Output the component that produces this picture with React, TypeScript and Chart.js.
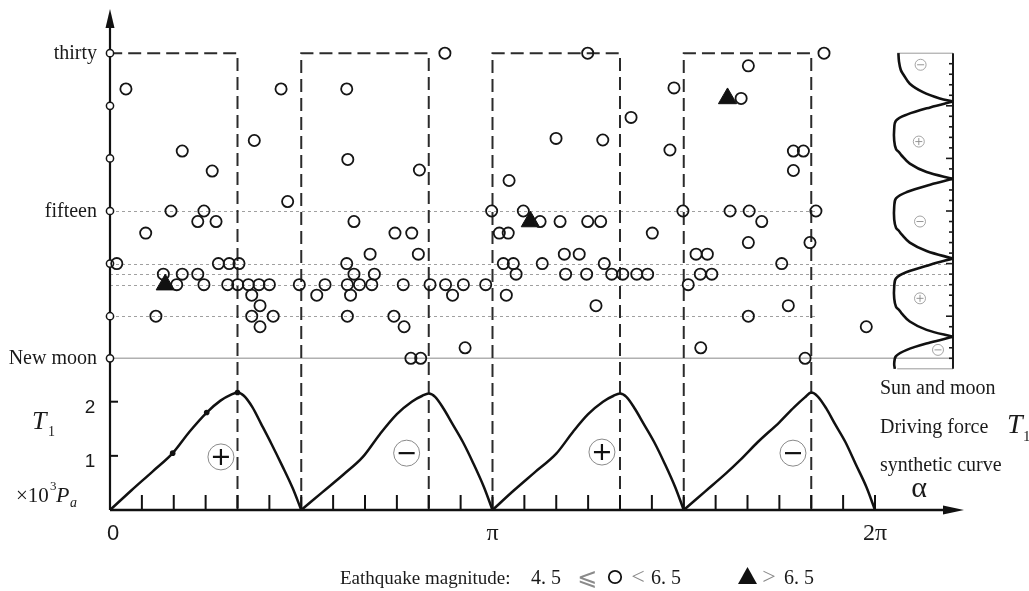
import React, { useEffect, useRef } from "react";
import { Chart, registerables } from "chart.js";

Chart.register(...registerables);

const WIDTH = 1029;
const HEIGHT = 591;

// ---------------- DATA ----------------
// α in degrees (0 … 360 = 2π); lunar day (1 = new moon, 15 = fifteenth, 30 = thirtieth)
const QUAKES_MID: [number, number][] = [
  [7.5, 26.6], [80.5, 26.6], [67.9, 21.7], [34.0, 20.7], [48.1, 18.8], [83.6, 15.9],
  [28.7, 15], [44.2, 15], [41.3, 14], [49.9, 14], [16.8, 12.9], [3.2, 10],
  [51.0, 10], [56.1, 10], [60.7, 10], [25.1, 9], [34.0, 9], [41.3, 9],
  [31.4, 8], [44.2, 8], [55.4, 8], [60.1, 8], [65.1, 8], [70.1, 8], [75.0, 8],
  [66.7, 7], [70.6, 6], [21.6, 5], [66.7, 5], [76.8, 5], [70.6, 4],
  [89.1, 8], [101.2, 8], [97.3, 7], [111.4, 10], [114.8, 9], [111.7, 8],
  [117.4, 8], [123.2, 8], [113.2, 7], [111.7, 5], [157.6, 30], [224.8, 30],
  [111.4, 26.6], [265.4, 26.7], [245.2, 23.9], [209.9, 21.9], [231.9, 21.75],
  [263.5, 20.8], [111.9, 19.9], [145.6, 18.9], [187.8, 17.9], [179.6, 15],
  [194.5, 15], [202.4, 14], [211.8, 14], [224.8, 14], [230.9, 14], [269.6, 15],
  [114.8, 14], [134.1, 12.9], [142.0, 12.9], [183.2, 12.9], [187.4, 12.9],
  [255.2, 12.9], [122.4, 10.9], [145.1, 10.9], [213.8, 10.9], [220.8, 10.9],
  [185.1, 10], [189.8, 10], [203.4, 10], [232.6, 10], [124.4, 9], [191.1, 9],
  [214.4, 9], [224.3, 9], [236.1, 9], [241.3, 9], [247.9, 9], [253.0, 9],
  [138.0, 8], [150.6, 8], [157.9, 8], [166.3, 8], [176.8, 8], [161.2, 7],
  [186.5, 7], [133.6, 5], [138.4, 4], [167.1, 2], [141.6, 1], [146.2, 1],
  [228.7, 6], [300.4, 12], [329.4, 12], [275.8, 10.9], [281.1, 10.9],
  [316.1, 10], [277.8, 9], [283.2, 9], [272.1, 8], [319.2, 6], [300.4, 5],
  [355.9, 4], [278.0, 2], [327.1, 1], [336.0, 30], [300.4, 28.8], [297.0, 25.7],
  [321.6, 20.7], [326.3, 20.7], [321.6, 18.85], [291.8, 15], [300.8, 15],
  [306.7, 14], [332.2, 15],
];

// magnitude > 6.5
const QUAKES_STRONG: [number, number][] = [
  [26.0, 8], [197.8, 14], [290.6, 25.7],
];

// marked lunar days on the vertical axis
const AXIS_DAYS = [30, 25, 20, 15, 10, 5, 1];
const DAY_LABELS: [number, string][] = [[30, "thirty"], [15, "fifteen"], [1, "New moon"]];

// horizontal guide lines (day, whether they run on into the right panel)
const GUIDES: [number, boolean][] = [[15, false], [10, true], [9, true], [8, true], [5, false]];

// dashed windows (α start, α end), top at day 30
const WINDOWS: [number, number][] = [[0, 60], [90, 150], [180, 240], [270, 330]];

// T1 driving-force synthetic curve, one arch per quarter (α deg, ×10³ Pa)
const T1_ARCH_1: [number, number][] = [
  [0, 0], [10, 0.36], [20, 0.71], [29.5, 1.05], [37.5, 1.45], [45.5, 1.8], [52, 2.02], [57, 2.13],
  [60, 2.17], [63, 2.11], [67, 1.9], [71, 1.6], [76, 1.22], [81, 0.82], [86, 0.4], [90, 0],
];
const T1_ARCH_2: [number, number][] = [
  [90, 0], [100, 0.33], [110, 0.66], [119, 0.98], [127, 1.4], [135, 1.77], [142, 2.0], [147, 2.11],
  [150, 2.15], [153, 2.09], [157, 1.87], [161, 1.6], [166, 1.26], [171, 0.86], [176, 0.42], [180, 0],
];
const T1_ARCH_3: [number, number][] = [
  [180, 0], [190, 0.36], [200, 0.7], [210, 1.04], [218, 1.45], [225, 1.77], [232, 2.0], [237, 2.11],
  [240, 2.15], [243, 2.09], [247, 1.87], [251, 1.6], [256, 1.26], [261, 0.86], [266, 0.42], [270, 0],
];
const T1_ARCH_4: [number, number][] = [
  [270, 0], [280, 0.34], [290, 0.68], [296.5, 0.92], [305, 1.26], [315, 1.62], [322, 1.9], [327, 2.08],
  [330, 2.17], [333, 2.1], [337, 1.88], [341, 1.6], [346, 1.26], [351, 0.84], [356, 0.42], [360, 0],
];
const T1_ARCHES = [T1_ARCH_1, T1_ARCH_2, T1_ARCH_3, T1_ARCH_4];
const T1_MARKS: [number, number][] = [[29.5, 1.05], [45.5, 1.8], [60, 2.17]];
const T1_TICKS = [1, 2];
const T1_SIGNS: [number, number, string][] = [
  [52.2, 0.98, "+"], [139.6, 1.05, "-"], [231.5, 1.07, "+"], [321.4, 1.05, "-"],
];
const ALPHA_TICK_STEP = 15;
const ALPHA_LABELS: [number, string][] = [[0, "0"], [180, "π"], [360, "2π"]];

// right panel: sun–moon force over the lunar month (day, relative force 0…1)
const PANEL_SEGMENTS: [number, number][][] = [
  [[30, 0.91], [29.2, 0.9], [28.4, 0.87], [28.0, 0.83], [27.1, 0.72], [26.3, 0.5], [25.7, 0.22], [25.4, 0]],
  [[25.4, 0], [24.85, 0.38], [24.16, 0.77], [23.6, 0.95], [22.8, 0.98], [21.7, 0.98], [20.9, 0.95],
   [20.6, 0.9], [20.3, 0.86], [19.5, 0.72], [18.7, 0.44], [18.06, 0]],
  [[18.06, 0], [17.5, 0.38], [16.8, 0.77], [16.2, 0.95], [15.4, 0.98], [14.2, 0.98], [13.4, 0.95],
   [13.1, 0.9], [12.8, 0.86], [12.0, 0.72], [11.2, 0.44], [10.48, 0]],
  [[10.48, 0], [9.9, 0.38], [9.2, 0.77], [8.6, 0.95], [7.8, 0.98], [6.7, 0.98], [5.9, 0.95],
   [5.6, 0.9], [5.3, 0.86], [4.5, 0.72], [3.7, 0.44], [3.05, 0]],
  [[3.05, 0], [2.5, 0.38], [1.8, 0.77], [1.2, 0.95], [0.5, 0.98], [0, 0.97]],
];
const PANEL_SIGNS: [number, number, string][] = [
  [28.9, 0.54, "-"], [21.6, 0.57, "+"], [14.0, 0.55, "-"], [6.7, 0.55, "+"], [1.8, 0.25, "-"],
];

// ---------------- LAYOUT (pixel anchors of the scales) ----------------
const lin = (p0: number, v0: number, p1: number, v1: number) => (p: number) =>
  v0 + ((p - p0) * (v1 - v0)) / (p1 - p0);
const alphaAt = lin(110, 0, 875, 360);
const dayAt = lin(358.3, 1, 53.2, 30);
const tAt = lin(510, 0, 401.7, 2);
const panelAt = lin(953, 0, 893, 1);

const SERIF = '"Liberation Serif", "Times New Roman", serif';
const SANS = '"Liberation Sans", Arial, sans-serif';

function drawText(ctx: CanvasRenderingContext2D, s: string, x: number, y: number, font: string,
  align: CanvasTextAlign = "left", color = "#1a1a1a", baseline: CanvasTextBaseline = "alphabetic") {
  ctx.font = font;
  ctx.fillStyle = color;
  ctx.textAlign = align;
  ctx.textBaseline = baseline;
  ctx.fillText(s, x, y);
}

function signCircle(ctx: CanvasRenderingContext2D, cx: number, cy: number, r: number, sign: string,
  ring: string, ringW: number, mark: string, markW: number, half: number) {
  ctx.setLineDash([]);
  ctx.beginPath();
  ctx.arc(cx, cy, r, 0, Math.PI * 2);
  ctx.strokeStyle = ring;
  ctx.lineWidth = ringW;
  ctx.stroke();
  ctx.strokeStyle = mark;
  ctx.lineWidth = markW;
  ctx.beginPath();
  ctx.moveTo(cx - half, cy);
  ctx.lineTo(cx + half, cy);
  if (sign === "+") {
    ctx.moveTo(cx, cy - half);
    ctx.lineTo(cx, cy + half);
  }
  ctx.stroke();
}

const overlay = {
  id: "overlay",
  beforeDatasetsDraw(chart: any) {
    const { ctx, scales } = chart;
    const X = (v: number) => scales.x.getPixelForValue(v);
    const D = (v: number) => scales.yDay.getPixelForValue(v);
    const T = (v: number) => scales.yT.getPixelForValue(v);
    const P = (v: number) => scales.xP.getPixelForValue(v);
    const x0 = X(0);
    const base = T(0);
    ctx.save();

    // guides
    ctx.strokeStyle = "#a0a0a0";
    ctx.lineWidth = 1;
    ctx.setLineDash([3, 3]);
    for (const [d, long] of GUIDES) {
      const y = Math.round(D(d)) + 0.5;
      ctx.beginPath();
      ctx.moveTo(x0, y);
      ctx.lineTo(long ? P(0.08) : X(332), y);
      ctx.stroke();
    }
    // new moon line
    ctx.setLineDash([]);
    ctx.strokeStyle = "#b0b0b0";
    ctx.lineWidth = 1.4;
    ctx.beginPath();
    ctx.moveTo(x0, D(1));
    ctx.lineTo(P(0), D(1));
    ctx.stroke();

    // dashed windows
    ctx.strokeStyle = "#2b2b2b";
    ctx.lineWidth = 2;
    ctx.setLineDash([13, 6]);
    for (const [a0, a1] of WINDOWS) {
      ctx.beginPath();
      ctx.moveTo(X(a0), base);
      ctx.lineTo(X(a0), D(30));
      ctx.lineTo(X(a1), D(30));
      ctx.lineTo(X(a1), base);
      ctx.stroke();
    }
    ctx.setLineDash([]);

    // right panel frame
    ctx.strokeStyle = "#9a9a9a";
    ctx.lineWidth = 1;
    ctx.beginPath();
    ctx.moveTo(P(0.93), D(30));
    ctx.lineTo(P(0), D(30));
    ctx.moveTo(P(0.93), D(0));
    ctx.lineTo(P(0), D(0));
    ctx.stroke();
    ctx.strokeStyle = "#1a1a1a";
    ctx.lineWidth = 2;
    ctx.beginPath();
    ctx.moveTo(P(0), D(30));
    ctx.lineTo(P(0), D(0));
    ctx.stroke();
    ctx.lineWidth = 1.6;
    for (let d = 1; d < 30; d++) {
      const y = D(d);
      ctx.beginPath();
      ctx.moveTo(P(0), y);
      ctx.lineTo(P(0) - (d % 5 === 0 ? 7 : 4), y);
      ctx.stroke();
    }

    // axes
    ctx.strokeStyle = "#111";
    ctx.fillStyle = "#111";
    ctx.lineWidth = 2.2;
    ctx.beginPath();
    ctx.moveTo(x0, base);
    ctx.lineTo(x0, 22);
    ctx.stroke();
    ctx.beginPath();
    ctx.moveTo(x0, 9);
    ctx.lineTo(x0 - 4.5, 28);
    ctx.lineTo(x0 + 4.5, 28);
    ctx.closePath();
    ctx.fill();

    ctx.lineWidth = 2.4;
    ctx.beginPath();
    ctx.moveTo(x0, base);
    ctx.lineTo(948, base);
    ctx.stroke();
    ctx.beginPath();
    ctx.moveTo(964, base);
    ctx.lineTo(943, base - 4.5);
    ctx.lineTo(943, base + 4.5);
    ctx.closePath();
    ctx.fill();

    ctx.lineWidth = 2;
    for (let a = ALPHA_TICK_STEP; a <= 360; a += ALPHA_TICK_STEP) {
      ctx.beginPath();
      ctx.moveTo(X(a), base);
      ctx.lineTo(X(a), base - 15);
      ctx.stroke();
    }
    for (const t of T1_TICKS) {
      ctx.beginPath();
      ctx.moveTo(x0, T(t));
      ctx.lineTo(x0 + 8, T(t));
      ctx.stroke();
    }
    ctx.restore();
  },
  afterDatasetsDraw(chart: any) {
    const { ctx, scales } = chart;
    const X = (v: number) => scales.x.getPixelForValue(v);
    const D = (v: number) => scales.yDay.getPixelForValue(v);
    const T = (v: number) => scales.yT.getPixelForValue(v);
    const P = (v: number) => scales.xP.getPixelForValue(v);
    ctx.save();

    for (const [a, t, s] of T1_SIGNS) {
      signCircle(ctx, X(a), T(t), 13, s, "#8a8a8a", 1, "#111", 2.2, 8);
    }
    for (const [d, f, s] of PANEL_SIGNS) {
      signCircle(ctx, P(f), D(d), 5.5, s, "#9a9a9a", 0.9, "#8a8a8a", 0.9, 3.5);
    }

    // day labels
    for (const [d, s] of DAY_LABELS) {
      drawText(ctx, s, 97, D(d) + 6, `20px ${SERIF}`, "right");
    }
    // T1 axis labels
    for (const t of T1_TICKS) {
      drawText(ctx, String(t), 90, T(t) + 11, `19px ${SANS}`, "center");
    }
    drawText(ctx, "T", 32, 429, `italic 26px ${SERIF}`);
    drawText(ctx, "1", 48, 436, `14px ${SERIF}`);
    drawText(ctx, "×10", 16, 502, `21px ${SERIF}`);
    drawText(ctx, "3", 50, 490, `13px ${SERIF}`);
    drawText(ctx, "P", 56, 502, `italic 22px ${SERIF}`);
    drawText(ctx, "a", 70, 507, `italic 14px ${SERIF}`);

    // alpha labels
    for (const [a, s] of ALPHA_LABELS) {
      const sans = s === "0";
      drawText(ctx, s, X(a) + (sans ? 3 : 0), 540, sans ? `22px ${SANS}` : `24px ${SERIF}`, "center");
    }
    drawText(ctx, "α", 919, 497, `30px ${SERIF}`, "center");

    // right texts
    drawText(ctx, "Sun and moon", 880, 394, `20px ${SERIF}`);
    drawText(ctx, "Driving force", 880, 433, `20px ${SERIF}`);
    drawText(ctx, "synthetic curve", 880, 471, `20px ${SERIF}`);
    drawText(ctx, "T", 1007, 433, `italic 28px ${SERIF}`);
    drawText(ctx, "1", 1023, 441, `15px ${SERIF}`);

    // magnitude legend
    const ly = 584;
    drawText(ctx, "Eathquake magnitude:", 340, ly, `19px ${SERIF}`);
    drawText(ctx, "4. 5", 531, ly, `20px ${SERIF}`);
    drawText(ctx, "⩽", 587, ly + 1, `24px "DejaVu Sans", ${SERIF}`, "center", "#8a8a8a");
    ctx.beginPath();
    ctx.arc(615, ly - 7, 6.2, 0, Math.PI * 2);
    ctx.strokeStyle = "#111";
    ctx.lineWidth = 1.8;
    ctx.stroke();
    drawText(ctx, "<", 638, ly, `24px ${SERIF}`, "center", "#8a8a8a");
    drawText(ctx, "6. 5", 651, ly, `20px ${SERIF}`);
    ctx.beginPath();
    ctx.moveTo(747.5, ly - 17);
    ctx.lineTo(738, ly);
    ctx.lineTo(757, ly);
    ctx.closePath();
    ctx.fillStyle = "#111";
    ctx.fill();
    drawText(ctx, ">", 769, ly, `24px ${SERIF}`, "center", "#8a8a8a");
    drawText(ctx, "6. 5", 784, ly, `20px ${SERIF}`);

    ctx.restore();
  },
};

export default function App() {
  const ref = useRef<HTMLCanvasElement | null>(null);

  useEffect(() => {
    if (!ref.current) return;
    const hidden = { display: false, bounds: "data" as const };
    const panelDatasets = PANEL_SEGMENTS.map((seg) => ({
      type: "line" as const,
      data: seg.map(([d, f]) => ({ x: f, y: d })),
      xAxisID: "xP",
      yAxisID: "yDay",
      borderColor: "#111",
      borderWidth: 2.6,
      pointRadius: 0,
      tension: 0.35,
      fill: false,
      clip: false as any,
    }));
    const archDatasets = T1_ARCHES.map((arch) => ({
      type: "line" as const,
      data: arch.map(([a, t]) => ({ x: a, y: t })),
      xAxisID: "x",
      yAxisID: "yT",
      borderColor: "#111",
      borderWidth: 2.5,
      pointRadius: 0,
      cubicInterpolationMode: "monotone",
      fill: false,
      clip: false as any,
    }));
    const chart = new Chart(ref.current, {
      type: "scatter",
      data: {
        datasets: [
          {
            data: QUAKES_MID.map(([a, d]) => ({ x: a, y: d })),
            xAxisID: "x",
            yAxisID: "yDay",
            pointStyle: "circle",
            pointRadius: 5.6,
            pointBorderWidth: 1.8,
            pointBorderColor: "#151515",
            pointBackgroundColor: "rgba(255,255,255,0)",
            clip: false as any,
          },
          {
            data: AXIS_DAYS.map((d) => ({ x: 0, y: d })),
            xAxisID: "x",
            yAxisID: "yDay",
            pointRadius: 3.6,
            pointBorderWidth: 1.5,
            pointBorderColor: "#151515",
            pointBackgroundColor: "#ffffff",
            clip: false as any,
          },
          {
            data: QUAKES_STRONG.map(([a, d]) => ({ x: a, y: d })),
            xAxisID: "x",
            yAxisID: "yDay",
            pointStyle: "triangle",
            pointRadius: 10.5,
            pointBorderWidth: 1,
            pointBorderColor: "#111",
            pointBackgroundColor: "#111",
            clip: false as any,
          },
          {
            data: T1_MARKS.map(([a, t]) => ({ x: a, y: t })),
            xAxisID: "x",
            yAxisID: "yT",
            pointRadius: 2.8,
            pointBorderWidth: 0,
            pointBackgroundColor: "#111",
            clip: false as any,
          },
          ...archDatasets,
          ...panelDatasets,
        ] as any,
      },
      options: {
        responsive: false,
        animation: false,
        devicePixelRatio: 1,
        events: [],
        layout: { padding: 0, autoPadding: false },
        plugins: { legend: { display: false }, tooltip: { enabled: false }, title: { display: false } },
        scales: {
          x: { type: "linear", ...hidden, min: alphaAt(0), max: alphaAt(WIDTH) },
          xP: { type: "linear", ...hidden, reverse: true, min: panelAt(WIDTH), max: panelAt(0) },
          yDay: { type: "linear", ...hidden, min: dayAt(HEIGHT), max: dayAt(0) },
          yT: { type: "linear", ...hidden, min: tAt(HEIGHT), max: tAt(0) },
        } as any,
      },
      plugins: [overlay],
    });
    return () => chart.destroy();
  }, []);

  return (
    <canvas
      ref={ref}
      width={WIDTH}
      height={HEIGHT}
      style={{ position: "fixed", left: 0, top: 0, width: WIDTH, height: HEIGHT, background: "#fff" }}
    />
  );
}
